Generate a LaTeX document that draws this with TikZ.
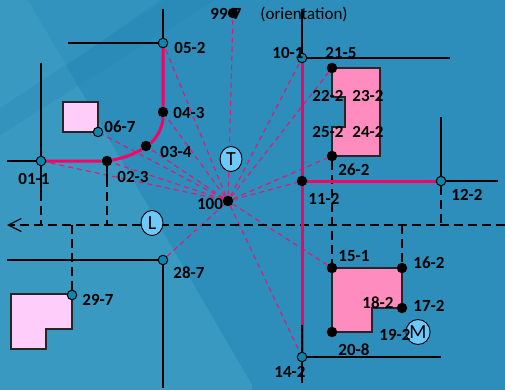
\documentclass[tikz,border=0pt]{standalone}
\usepackage{fontspec}
\setmainfont{Carlito}
\usepackage{tikz}
\usetikzlibrary{calc,arrows.meta,backgrounds,shapes.geometric}
\definecolor{bgdark}{RGB}{45,142,187}
\definecolor{bglight}{RGB}{57,153,193}
\definecolor{bgmid}{RGB}{50,147,190}
\definecolor{bgband}{RGB}{40,136,180}
\definecolor{hotpink}{RGB}{250,0,100}
\definecolor{raypink}{RGB}{235,20,110}
\definecolor{lotdark}{RGB}{255,140,190}
\definecolor{lotlight}{RGB}{255,205,250}
\definecolor{tealdot}{RGB}{10,135,175}
\definecolor{skydot}{RGB}{110,200,250}
\tikzset{
  tealpt/.style={circle,draw=black,fill=tealdot,line width=1pt,inner sep=0pt,minimum size=9.5pt},
  blackpt/.style={circle,fill=black,inner sep=0pt,minimum size=10.5pt},
  letterpt/.style={ellipse,draw=black,fill=skydot,line width=0.9pt,inner sep=0pt,minimum width=22pt,minimum height=25pt,font=\fontsize{20}{20}\selectfont},
  lab/.style={font=\fontsize{17}{17}\selectfont\bfseries,inner sep=0pt},
  ray/.style={draw=raypink,line width=1.1pt,dash pattern=on 5pt off 4pt},
  road/.style={draw=black,line width=1.2pt},
  dashroad/.style={draw=black,line width=1.2pt,dash pattern=on 9pt off 5pt},
  pinkroad/.style={draw=hotpink,line width=3pt},
  lot/.style={draw=black!85,line width=1.2pt}
}
\begin{document}
\begin{tikzpicture}[x=1pt,y=-1pt]
  \useasboundingbox (0,0) rectangle (505,390);

  \node[blackpt](n100)at(228,201){};
  \node[tealpt](n01)at(41,161){};
  \node[blackpt](n02)at(107,161){};
  \node[blackpt](n03)at(146,146){};
  \node[blackpt](n04)at(163,112){};
  \node[tealpt](n05)at(163,43){};
  \node[tealpt](n06)at(98,132){};
  \node[lab](l99)at(226,14){99-7};
  \node[blackpt](n99)at(233,13){};
  \node[tealpt](n10)at(302,58){};
  \node[blackpt](n21)at(332,68){};
  \node[blackpt](n26)at(332,156){};
  \node[blackpt](n11)at(302,181){};
  \node[tealpt](n12)at(441,181){};
  \node[blackpt](n15)at(332,268){};
  \node[blackpt](n16)at(402,268){};
  \node[blackpt](n17)at(402,308){};
  \node[blackpt](n19)at(332,332){};
  \node[tealpt](n14)at(302,357){};
  \node[tealpt](n28)at(163,260){};
  \node[tealpt](n29)at(72,295){};
  \node[letterpt](T)at(231,159){T};
  \node[letterpt](L)at(152,223){L};
  \node[letterpt](M)at(418,332){M};

  \coordinate (a0) at (7,225);
  \coordinate (a1) at (505,225);
  \coordinate (j01) at (41,225);
  \coordinate (j02) at (107,225);
  \coordinate (j29) at (72,225);
  \coordinate (j16) at (402,225);
  \coordinate (j12) at (441,225);
  \coordinate (e01a) at (41,63);
  \coordinate (e01b) at (41,192);
  \coordinate (e01c) at (7,161);
  \coordinate (e02) at (107,178);
  \coordinate (e05a) at (163,9);
  \coordinate (e05b) at (68,43);
  \coordinate (e10a) at (302,9);
  \coordinate (e10b) at (450,58);
  \coordinate (e12a) at (441,117);
  \coordinate (e12b) at (498,181);
  \coordinate (e28a) at (7,260);
  \coordinate (e28b) at (163,388);
  \coordinate (e14a) at (302,325);
  \coordinate (e14b) at (302,383);
  \coordinate (e14c) at (441,357);

  \begin{scope}[on background layer]
    \fill[bgdark] (0,0) rectangle (505,390);
    \fill[bgmid] (28,0) -- (160,0) -- (66,66) -- cycle;
    \fill[bglight] (0,0) -- (28,0) -- (252,385) -- (252,390) -- (0,390) -- cycle;
    \fill[bgband,opacity=0.35] (0,108) -- (165,0) -- (215,0) -- (0,135) -- cycle;

    \draw[lot,fill=lotdark] (332,68) -- (380,68) -- (380,156) -- (332,156) -- (332,127) -- (345,127) -- (345,97) -- (332,97) -- cycle;
    \draw[lot,fill=lotdark] (332,268) -- (402,268) -- (402,308) -- (372,308) -- (372,332) -- (332,332) -- cycle;
    \draw[lot,fill=lotlight] (63,102) rectangle (98,132);
    \draw[lot,fill=lotlight] (11,294) -- (72,294) -- (72,329) -- (46,329) -- (46,349) -- (11,349) -- cycle;

    \draw[ray] (n100) -- (n05);
    \draw[ray] (n100) -- (n04);
    \draw[ray] (n100) -- (n03);
    \draw[ray] (n100) -- (n02);
    \draw[ray] (n100) -- (n01);
    \draw[ray] (n100) -- (n06);
    \draw[ray] (n100) -- (n99);
    \draw[ray] (n100) -- (n10);
    \draw[ray] (n100) -- (n21);
    \draw[ray] (n100) -- (n26);
    \draw[ray] (n100) -- (n11);
    \draw[ray] (n100) -- (n15);
    \draw[ray] (n100) -- (n14);
    \draw[ray] (n100) -- (n28);

    \draw[dashroad,-{Straight Barb[length=13pt,width=13pt]}] (a1) -- (a0);
    \draw[dashroad] (e01b) -- (j01);
    \draw[dashroad] (e02) -- (j02);
    \draw[dashroad] (j29) -- (n29);
    \draw[dashroad] (n26) -- (n15);
    \draw[dashroad] (j16) -- (n16);
    \draw[dashroad] (n12) -- (j12);

    \draw[pinkroad] (n01) -- (n02) .. controls (125,158) and (138,152) .. (n03) .. controls (155,140) and (163,128) .. (n04) -- (n05);
    \draw[pinkroad] (n10) -- (n14);
    \draw[pinkroad] (n11) -- (n12);

    \draw[road] (e01a) -- (e01b);
    \draw[road] (e01c) -- (n01);
    \draw[road] (n02) -- (e02);
    \draw[road] (e05a) -- (n05);
    \draw[road] (e05b) -- (n05);
    \draw[road] (e10a) -- (n10);
    \draw[road] (n10) -- (e10b);
    \draw[road] (e12a) -- (n12);
    \draw[road] (n12) -- (e12b);
    \draw[road] (e28a) -- (n28);
    \draw[road] (n28) -- (e28b);
    \draw[road] (e14a) -- (e14b);
    \draw[road] (n14) -- (e14c);
  \end{scope}

  \node[lab](l05)at(190,48){05-2};
  \node[lab](l04)at(189,113){04-3};
  \node[lab](l06)at(120,127){06-7};
  \node[lab](l03)at(176,152){03-4};
  \node[lab](l02)at(133,177){02-3};
  \node[lab](l01)at(34,179){01-1};
  \node[font=\fontsize{17}{17}\selectfont,inner sep=0pt](lor)at(304,14){(orientation)};
  \node[lab](l10)at(288,53){10-1};
  \node[lab](l21)at(341,53){21-5};
  \node[lab](l22)at(328,96){22-2};
  \node[lab](l23)at(368,96){23-2};
  \node[lab](l25)at(328,132){25-2};
  \node[lab](l24)at(368,132){24-2};
  \node[lab](l26)at(354,170){26-2};
  \node[lab](l11)at(324,199){11-2};
  \node[lab](l12)at(467,195){12-2};
  \node[lab](l15)at(354,256){15-1};
  \node[lab](l16)at(429,263){16-2};
  \node[lab](l18)at(378,303){18-2};
  \node[lab](l17)at(429,306){17-2};
  \node[lab](l19)at(395,335){19-2};
  \node[lab](l20)at(354,350){20-8};
  \node[lab](l14)at(290,372){14-2};
  \node[lab](l28)at(189,273){28-7};
  \node[lab](l29)at(98,300){29-7};
  \node[lab](l100)at(210,204){100};
\end{tikzpicture}
\end{document}
